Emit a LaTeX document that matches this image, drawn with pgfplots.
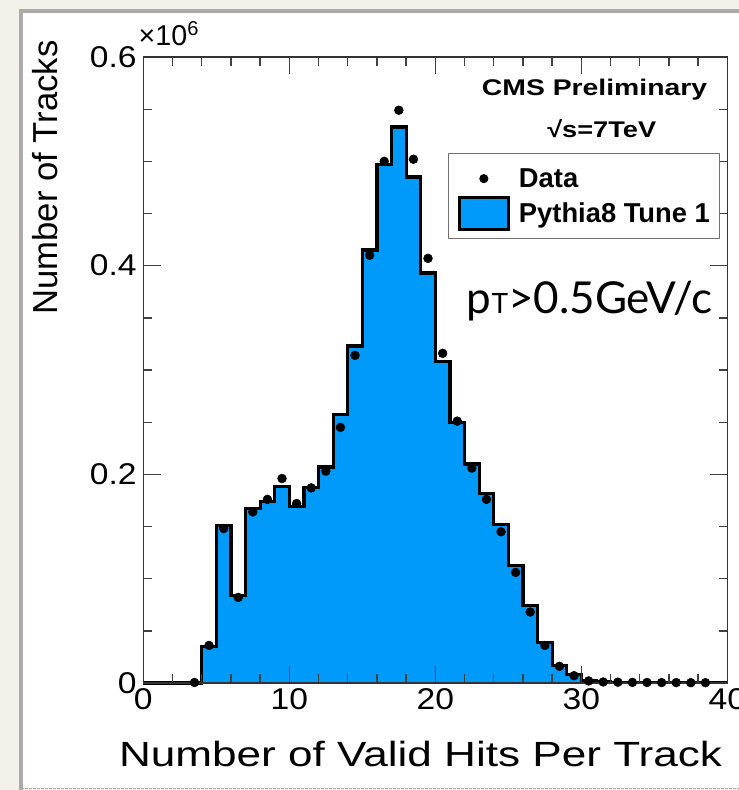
\documentclass[border=0pt]{standalone}
\usepackage{pgfplots}
\pgfplotsset{compat=1.18}
\usepackage{pgfplotstable}
\usepackage{fontspec}
\setmainfont{Liberation Sans}
\newfontfamily\gillfont{Lato}

\definecolor{paper}{HTML}{F3F0E9}
\definecolor{framegray}{HTML}{ABABAB}
\definecolor{mcfill}{RGB}{0,155,250}

% Simulated track counts (x10^6), one entry per unit bin [x, x+1)
\pgfplotstableread{
x y
0 0
1 0
2 0
3 0
4 0.035
5 0.151
6 0.084
7 0.167
8 0.174
9 0.188
10 0.169
11 0.187
12 0.207
13 0.257
14 0.323
15 0.415
16 0.497
17 0.533
18 0.485
19 0.393
20 0.308
21 0.250
22 0.210
23 0.182
24 0.152
25 0.113
26 0.074
27 0.039
28 0.017
29 0.008
30 0.0025
31 0.001
32 0.0004
33 0.0003
34 0.0002
35 0.0002
36 0.0001
37 0.0001
38 0.0001
39 0.0001
40 0.0001
}\mctable

% Measured track counts (x10^6) at bin centres
\pgfplotstableread{
x y
3.5 0.0005
4.5 0.036
5.5 0.148
6.5 0.082
7.5 0.164
8.5 0.176
9.5 0.196
10.5 0.172
11.5 0.187
12.5 0.203
13.5 0.245
14.5 0.314
15.5 0.410
16.5 0.500
17.5 0.549
18.5 0.502
19.5 0.407
20.5 0.316
21.5 0.251
22.5 0.206
23.5 0.176
24.5 0.145
25.5 0.106
26.5 0.068
27.5 0.036
28.5 0.016
29.5 0.007
30.5 0.002
31.5 0.001
32.5 0.0008
33.5 0.0006
34.5 0.0005
35.5 0.0004
36.5 0.0004
37.5 0.0003
38.5 0.0003
}\datatable

\begin{document}
\begin{tikzpicture}
% page background and sketched frame
\fill[paper] (0,0) rectangle (554.25pt,592.5pt);
\fill[white] (15.75pt,1.5pt) rectangle (554.25pt,584.25pt);
\draw[framegray, line width=3pt] (15.75pt,0pt) -- (15.75pt,584.25pt) -- (554.25pt,584.25pt);
\draw[framegray, line width=0.8pt, dash pattern=on 2pt off 1pt] (15.75pt,1.2pt) -- (554.25pt,1.2pt);

\begin{axis}[
  at={(107.5pt,80.25pt)}, anchor=south west,
  scale only axis, width=438pt, height=469.5pt,
  xmin=0, xmax=40, ymin=0, ymax=0.6,
  clip=false, axis on top,
  axis line style={black!80, line width=1pt},
  tick style={black!75, line width=1pt},
  tick align=inside,
  major tick length=13pt, minor tick length=6.5pt,
  xtick={0,10,20,30,40}, minor x tick num=4,
  ytick={0,0.2,0.4,0.6}, minor y tick num=3,
  scaled y ticks=false,
  yticklabel style={/pgf/number format/fixed, /pgf/number format/precision=1},
  /pgf/number format/assume math mode=true,
  tick label style={font=\fontsize{22.5}{27}\selectfont, xscale=1.12},
  xticklabel style={yshift=-1pt},
  yticklabel style={xshift=-1pt},
  xlabel={Number of Valid Hits Per Track},
  xlabel style={at={(axis description cs:1.001,-0.134)}, anchor=base east,
    font=\fontsize{26.25}{30}\selectfont, xscale=1.26},
  ylabel={Number of Tracks},
  ylabel style={at={(axis description cs:-0.1473,1.034)}, anchor=base east,
    font=\fontsize{26}{30}\selectfont},
  legend style={at={(axis description cs:0.987,0.847)}, anchor=north east,
    draw=black!55, line width=0.8pt, fill=white,
    font=\bfseries\fontsize{20.5}{24}\selectfont,
    inner xsep=7pt, inner ysep=6pt, row sep=0pt, column sep=7pt,
    nodes={inner sep=0pt}},
  legend cell align=left,
]
% simulation: filled histogram and its outline
\addplot[fill=mcfill, draw=none, const plot mark left, forget plot]
  table[x=x, y=y]{\mctable} \closedcycle;
\addplot[black, line width=2.4pt, const plot mark left, forget plot]
  table[x=x, y=y]{\mctable};
% data points
\addplot[only marks, mark=*, mark size=3.3pt, black, forget plot]
  table[x=x, y=y]{\datatable};

\addlegendimage{legend image code/.code={
  \path[draw=none, fill=none] (0pt,-13pt) rectangle (36.75pt,13pt);
  \fill[black] (18.4pt,0pt) circle (3pt);}}
\addlegendentry{Data}
\addlegendimage{legend image code/.code={
  \path[draw=none, fill=none] (0pt,-13pt) rectangle (36.75pt,13pt);
  \filldraw[fill=mcfill, draw=black, line width=2pt] (0pt,-12pt) rectangle (36.75pt,12pt);}}
\addlegendentry{Pythia8 Tune 1}

\node[anchor=base west, font=\fontsize{21.5}{24}\selectfont]
  at (axis description cs:-0.016,1.018) {×10\textsuperscript{6}};
\node[anchor=base east, font=\bfseries\fontsize{17}{20}\selectfont, xscale=1.25]
  at (axis description cs:0.9755,0.939) {CMS Preliminary};
\node[anchor=base, font=\bfseries\fontsize{17}{20}\selectfont, xscale=1.2]
  at (axis description cs:0.785,0.872) {√s=7TeV};
\node[anchor=base west, font=\gillfont\fontsize{33}{38}\selectfont]
  at (axis description cs:0.546,0.591) {p{\fontsize{21}{24}\selectfont T}>0.5GeV/c};
\end{axis}

\pgfresetboundingbox
\useasboundingbox (0,0) rectangle (554.25pt,592.5pt);
\end{tikzpicture}
\end{document}
